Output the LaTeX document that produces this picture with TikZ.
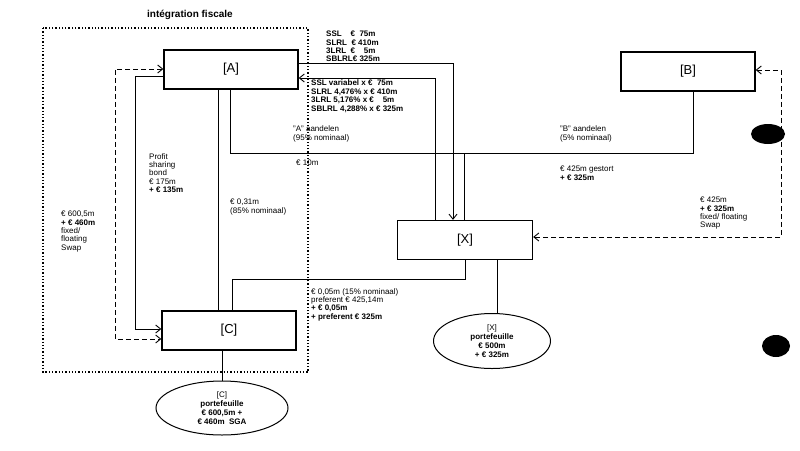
\documentclass[tikz,border=0pt]{standalone}
\usepackage{fontspec}
\setmainfont{Liberation Sans}
\usetikzlibrary{arrows.meta,shapes.geometric}
\begin{document}
\begin{tikzpicture}[x=1pt,y=-1pt,
  box/.style={draw,line width=1.3pt,minimum width=134pt,minimum height=39pt,font=\fontsize{13}{14}\selectfont},
  ell/.style={draw,line width=1pt,ellipse,minimum width=#1,align=center,inner sep=1pt,font=\fontsize{8}{8.8}\selectfont},
  ln/.style={line width=0.9pt},
  arr/.style={ln,-{Straight Barb[length=5pt,width=8pt]}},
  dsh/.style={ln,dashed,dash pattern=on 5pt off 3pt,{Straight Barb[length=5pt,width=8pt]}-{Straight Barb[length=5pt,width=8pt]}},
  lbl/.style={font=\fontsize{8}{8.4}\selectfont,align=left,anchor=north west,inner sep=0pt},
  blob/.style={fill=black}]
\useasboundingbox (0,0) rectangle (800,450);
\draw[line width=1.3pt,dotted] (43,28) rectangle (308,372);
\node[font=\bfseries\fontsize{10}{11}\selectfont] (title) at (190,15) {intégration fiscale};
\node[box] (A) at (231,69.5) {[A]};
\node[box] (B) at (688,71.5) {[B]};
\node[box] (C) at (229,330.5) {[C]};
\node[box,minimum width=135pt] (X) at (465,240) {[X]};
\node[ell=132pt,minimum height=54pt] (eC) at (222,408) {[C]\\\textbf{portefeuille}\\\textbf{€ 600,5m +}\\\textbf{€ 460m\ \ SGA}};
\node[ell=117pt,minimum height=55pt] (eX) at (492,341) {[X]\\\textbf{portefeuille}\\\textbf{€ 500m}\\\textbf{+ € 325m}};
\coordinate (p1) at (453,63);
\coordinate (p2) at (435,78);
\coordinate (h1) at (230,153);
\coordinate (h2) at (464,153);
\coordinate (h3) at (693,153);
\coordinate (c1) at (232,279);
\coordinate (c2) at (465,279);
\draw[arr] (A.east|-p1) -| (X.north-|p1);
\draw[arr] (X.north-|p2) |- (A.east|-p2);
\draw[ln] (A.south-|h1) |- (h2) -- (X.north-|h2);
\draw[ln] (B.south-|h3) |- (h2);
\draw[ln] (A.south-|218,0) -- (C.north-|218,0);
\draw[ln] (X.south-|c2) |- (c1) -- (C.north-|c1);
\draw[ln] (X.south-|497,0) -- (eX.north-|497,0);
\draw[ln] (C.south-|222,0) -- (eC.north);
\draw[arr] (A.west|-0,76) -| (135,329) -- (C.west|-0,329);
\draw[dsh] (A.west|-0,69) -| (115,339) -- (C.west|-0,339);
\draw[dsh] (B.east|-0,70) -| (781,237) -- (X.east|-0,237);
\fill[blob] (768,134) ellipse (17pt and 10pt);
\fill[blob] (776,346) ellipse (14pt and 11pt);
\node[lbl] (t1) at (326,31) {\textbf{SSL\ \ \ \ € \ 75m}\\\textbf{SLRL\ \ € 410m}\\\textbf{3LRL\ \ € \ \ \ 5m}\\\textbf{SBLRL€ 325m}};
\node[lbl] (t2) at (311,80) {\textbf{SSL variabel\ x\ € \ 75m}\\\textbf{SLRL 4,476\% x € 410m}\\\textbf{3LRL 5,176\% x € \ \ \ 5m}\\\textbf{SBLRL 4,288\% x € 325m}};
\node[lbl] (t3) at (293,126) {"A" aandelen\\(95\% nominaal)};
\node[lbl] (t4) at (296,160) {€ 10m};
\node[lbl] (t5) at (149,153) {Profit\\sharing\\bond\\€ 175m\\\textbf{+ € 135m}};
\node[lbl] (t6) at (230,199) {€ 0,31m\\(85\% nominaal)};
\node[lbl] (t7) at (61,211) {€ 600,5m\\\textbf{+ € 460m}\\fixed/\\floating\\Swap};
\node[lbl] (t8) at (560,126) {"B" aandelen\\(5\% nominaal)};
\node[lbl] (t9) at (560,166) {€ 425m gestort\\\textbf{+ € 325m}};
\node[lbl] (t10) at (700,197) {€ 425m\\\textbf{+ € 325m}\\fixed/ floating\\Swap};
\node[lbl] (t11) at (311,288) {€ 0,05m (15\% nominaal)\\preferent € 425,14m\\\textbf{+ € 0,05m}\\\textbf{+ preferent € 325m}};
\end{tikzpicture}
\end{document}
